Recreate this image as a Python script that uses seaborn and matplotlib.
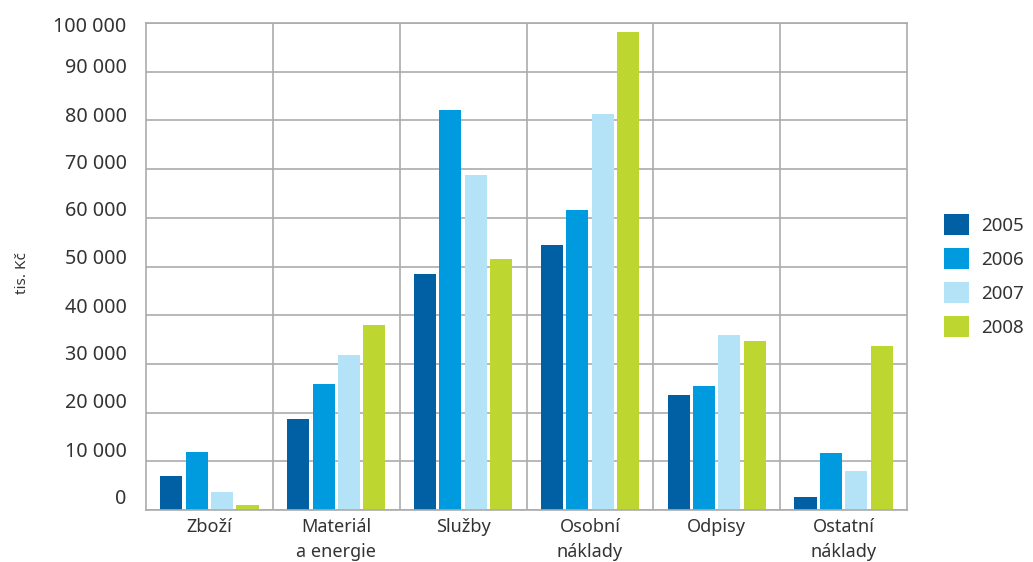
import numpy as np
import pandas as pd
import matplotlib
matplotlib.use("Agg")
import matplotlib.pyplot as plt
import matplotlib.transforms as mtransforms
from matplotlib.ticker import FixedLocator, FuncFormatter
import seaborn as sns

# Cost categories and yearly values (tis. Kč)
categories = ["Zboží", "Materiál\na energie", "Služby", "Osobní\nnáklady", "Odpisy", "Ostatní\nnáklady"]
years = ["2005", "2006", "2007", "2008"]
v2005 = [7000, 18700, 48500, 54400, 23600, 2700]
v2006 = [11900, 25900, 82100, 61600, 25500, 11700]
v2007 = [3700, 31800, 68800, 81300, 35900, 8000]
v2008 = [1000, 38000, 51500, 98200, 34700, 33700]
y_ticks = [0, 10000, 20000, 30000, 40000, 50000, 60000, 70000, 80000, 90000, 100000]

colors = ["#0060a3", "#009bdf", "#b4e3f8", "#bed630"]

series = [v2005, v2006, v2007, v2008]
df = pd.DataFrame({
    "kategorie": np.repeat([categories], len(years), axis=0).ravel(),
    "rok": np.repeat(years, len(categories)),
    "hodnota": np.concatenate(series),
})

sns.set_theme(style="white")
plt.rcParams["font.family"] = ["Noto Sans", "DejaVu Sans"]
text_color = "#333333"
grid_color = "#ababab"

fig = plt.figure(figsize=(10.33, 5.62), dpi=100)
ax = fig.add_axes([146 / 1033, 1 - 510 / 562, 761 / 1033, 487 / 562])

sns.barplot(data=df, x="kategorie", y="hodnota", hue="rok", hue_order=years,
            order=categories, palette=colors, width=0.8, gap=0.13,
            saturation=1, ax=ax, legend=True, linewidth=0)

ax.set_xlim(-0.5, len(categories) - 0.5)
ax.set_ylim(0, 100000)

# grid: horizontal at y ticks, vertical at category boundaries
ax.yaxis.set_major_locator(FixedLocator(y_ticks))
ax.yaxis.set_major_formatter(FuncFormatter(lambda v, p: f"{int(v):,}".replace(",", " ")))
ax.xaxis.set_minor_locator(FixedLocator(np.arange(0.5, len(categories) - 0.5, 1)))
ax.set_axisbelow(True)
ax.grid(axis="y", which="major", color=grid_color, linewidth=1.2)
ax.grid(axis="x", which="minor", color=grid_color, linewidth=1.2)
ax.grid(axis="x", which="major", visible=False)
for sp in ax.spines.values():
    sp.set_color(grid_color)
    sp.set_linewidth(1.2)
    sp.set_visible(True)

ax.tick_params(axis="both", which="both", length=0)
ax.tick_params(axis="y", labelsize=14.2, labelcolor=text_color, pad=14)
ax.tick_params(axis="x", labelsize=13, labelcolor=text_color, pad=6)

# y tick labels sit slightly above their grid lines (pixel lifts)
label_lift = [13, 12, 12, 11, 10, 10, 9, 8, 6, 6, -1]
for lbl, lift in zip(ax.get_yticklabels(), label_lift):
    lbl.set_transform(lbl.get_transform() + mtransforms.ScaledTranslation(0, lift / 100, fig.dpi_scale_trans))
for lbl in ax.get_xticklabels():
    lbl.set_linespacing(1.45)

ax.set_xlabel("")
ax.set_ylabel("tis. Kč", fontsize=11, color=text_color)
ax.yaxis.set_label_coords(-0.152, 0.487)

handles, labels = ax.get_legend_handles_labels()
ax.legend_.remove()
leg = fig.legend(handles, labels, loc="center left",
                 bbox_to_anchor=(944 / 1033, 1 - 275.5 / 562),
                 frameon=False, fontsize=13.5, handlelength=1.35, handleheight=1.35,
                 handletextpad=0.65, labelspacing=0.7, borderpad=0, borderaxespad=0)
for t in leg.get_texts():
    t.set_color(text_color)

fig.savefig("out.png", dpi=100)
